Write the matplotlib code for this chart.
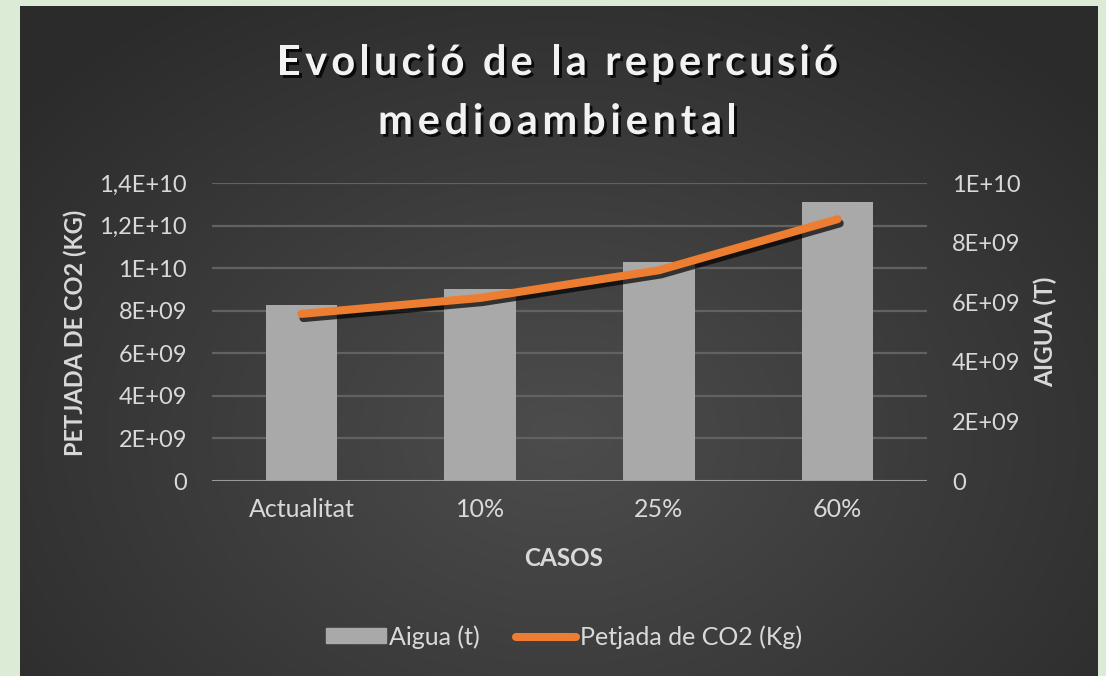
import numpy as np
import matplotlib
matplotlib.use("Agg")
import matplotlib.pyplot as plt
import matplotlib.patheffects as pe
from matplotlib.patches import Patch
from matplotlib.lines import Line2D

# data
casos = ["Actualitat", "10%", "25%", "60%"]
aigua_t = [5.9e9, 6.45e9, 7.35e9, 9.35e9]          # bars, right axis
petjada_co2_kg = [7.85e9, 8.6e9, 9.9e9, 12.3e9]    # line, left axis

left_ticks = [0, 2e9, 4e9, 6e9, 8e9, 1e10, 1.2e10, 1.4e10]
left_labels = ["0", "2E+09", "4E+09", "6E+09", "8E+09", "1E+10", "1,2E+10", "1,4E+10"]
right_ticks = [0, 2e9, 4e9, 6e9, 8e9, 1e10]
right_labels = ["0", "2E+09", "4E+09", "6E+09", "8E+09", "1E+10"]

W, H = 1106, 676
txt = "#d9d9d9"
font = "Lato"

fig = plt.figure(figsize=(W / 100, H / 100), dpi=100, facecolor="#dcebd5")


def tracked_text(s, xc, y_base, width_px, **kw):
    # draw text char by char so the letter spacing fills width_px
    r = fig.canvas.get_renderer()

    def w(t):
        tt = fig.text(0, 0, t, **kw)
        e = tt.get_window_extent(r).width
        tt.remove()
        return e

    ref = w("xx")
    adv = [w("x" + ch + "x") - ref for ch in s]
    track = (width_px - sum(adv)) / (len(s) - 1)
    xpos = xc - width_px / 2
    for ch, a in zip(s, adv):
        fig.text(xpos / W, 1 - y_base / H, ch, ha="left", va="baseline", **kw)
        xpos += a + track


# dark chart background with radial gradient
bg = fig.add_axes([20 / W, 0, 1078 / W, 670 / H])
bg.axis("off")
yy, xx = np.mgrid[0:670, 0:1078]
r = np.sqrt(((xx - 540) / 700) ** 2 + ((yy - 430) / 520) ** 2)
r = np.clip(r, 0, 1)
shade = 0.30 - 0.13 * r
bg.imshow(np.dstack([shade] * 3), aspect="auto", interpolation="bilinear")

# main axes (left: CO2)
ax = fig.add_axes([212 / W, (H - 481) / H, 715 / W, 298 / H])
ax.patch.set_visible(False)
ax.set_xlim(-0.5, 3.5)
ax.set_ylim(0, 1.4e10)
ax.set_yticks(left_ticks)
ax.set_yticklabels(left_labels)
ax.grid(axis="y", color="#626262", linewidth=1.6)
ax.set_axisbelow(True)

# right axis: water, bars
ax2 = ax.twinx()
ax2.set_ylim(0, 1e10)
ax2.set_yticks(right_ticks)
ax2.set_yticklabels(right_labels)
x = np.arange(len(casos))
ax2.bar(x, aigua_t, width=0.4, color="#a9a9a9", zorder=2)
ax2.axhline(0, color="#a0a0a0", linewidth=2, zorder=3)

# line on top, same scale as left axis
ax3 = ax.twinx()
ax3.set_ylim(0, 1.4e10)
ax3.axis("off")
ax3.plot(x, petjada_co2_kg, color="#ed7d31", linewidth=5.8,
         solid_capstyle="round", solid_joinstyle="round",
         path_effects=[pe.SimpleLineShadow(offset=(1.5, -3), shadow_color="black", alpha=0.7),
                       pe.Normal()])

for a in (ax, ax2, ax3):
    for s in a.spines.values():
        s.set_visible(False)
    a.tick_params(length=0, colors=txt, labelsize=17)
    for lab in a.get_yticklabels():
        lab.set_fontfamily(font)

ax.tick_params(axis="y", pad=18)
ax2.tick_params(axis="y", pad=18)
ax.set_xticks(x)
ax.set_xticklabels(casos, fontfamily=font, fontsize=18)
ax.tick_params(axis="x", pad=12)

# axis titles
fig.text(564 / W, 1 - 558 / H, "CASOS", ha="center", va="center", color=txt,
         fontsize=17.5, fontweight="bold", fontfamily=font)
fig.text(75 / W, 1 - 333 / H, "PETJADA DE CO2 (KG)", ha="center", va="center", rotation=90,
         color=txt, fontsize=17, fontweight="bold", fontfamily=font)
fig.text(1045 / W, 1 - 332 / H, "AIGUA (T)", ha="center", va="center", rotation=90,
         color=txt, fontsize=17.5, fontweight="bold", fontfamily=font)

# title with spaced letters and drop shadow
title_kw = dict(color="#f2f2f2", fontsize=30, fontweight="bold", fontfamily=font,
                path_effects=[pe.withSimplePatchShadow(offset=(2, -2), shadow_rgbFace="black", alpha=0.8)])
tracked_text("Evolució de la repercusió", 557.5, 75, 561, **title_kw)
tracked_text("medioambiental", 557.5, 134, 359, **title_kw)

handles = [Patch(color="#a9a9a9"), Line2D([0], [0], color="#ed7d31", linewidth=5.8, solid_capstyle="round")]
leg = fig.legend(handles, ["Aigua (t)", "Petjada de CO2 (Kg)"], loc="center",
                 bbox_to_anchor=(564 / W, 1 - 637 / H), ncol=2, frameon=False,
                 handlelength=2.4, handleheight=0.55, handletextpad=0.15, columnspacing=1.45,
                 prop={"family": font, "size": 18})
for t in leg.get_texts():
    t.set_color(txt)

fig.savefig("out.png", dpi=100, facecolor=fig.get_facecolor())
